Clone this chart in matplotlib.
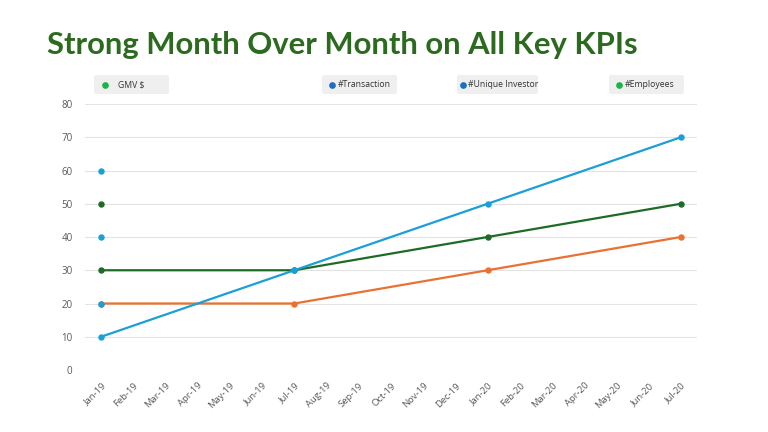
import numpy as np
import matplotlib
matplotlib.use("Agg")
import matplotlib.pyplot as plt
from matplotlib.patches import FancyBboxPatch
from matplotlib.lines import Line2D

# Chart data
months = ["Jan-19", "Feb-19", "Mar-19", "Apr-19", "May-19", "Jun-19", "Jul-19",
          "Aug-19", "Sep-19", "Oct-19", "Nov-19", "Dec-19", "Jan-20", "Feb-20",
          "Mar-20", "Apr-20", "May-20", "Jun-20", "Jul-20"]
line_months = ["Jan-19", "Jul-19", "Jan-20", "Jul-20"]
blue_values = [10, 30, 50, 70]
green_values = [30, 30, 40, 50]
orange_values = [20, 20, 30, 40]
# stray single points in Jan-19
extra_blue = [60, 40, 20]
extra_green = [50]
legend_labels = ["GMV $", "#Transaction", "#Unique Investor", "#Employees"]
y_ticks = [0, 10, 20, 30, 40, 50, 60, 70, 80]

BLUE = "#1A9FD6"
GREEN = "#1E6B26"
ORANGE = "#E97132"
GREY = "#595959"
plt.rcParams["font.family"] = ["Open Sans", "DejaVu Sans"]

fig = plt.figure(figsize=(7.68, 4.32), dpi=100)
ax = fig.add_axes([85 / 768, 62 / 432, 612 / 768, 266 / 432])

xpos = [months.index(m) for m in line_months]
ax.plot(xpos, orange_values, color=ORANGE, lw=1.6, marker="o", ms=3.6, zorder=3)
ax.plot(xpos, green_values, color=GREEN, lw=1.6, marker="o", ms=3.6, zorder=4)
ax.plot(xpos, blue_values, color=BLUE, lw=1.6, marker="o", ms=3.6, zorder=5)
ax.plot([0] * len(extra_blue), extra_blue, ls="none", marker="o", ms=3.6,
        color=BLUE, zorder=6)
ax.plot([0] * len(extra_green), extra_green, ls="none", marker="o", ms=3.6,
        color=GREEN, zorder=6)

ax.set_xlim(-0.5, len(months) - 0.5)
ax.set_ylim(0, 80)
ax.set_yticks(y_ticks)
ax.set_xticks(range(len(months)))
ax.set_xticklabels(months, rotation=45, ha="right", va="top",
                   rotation_mode="anchor", fontsize=6.8, color=GREY)
ax.tick_params(axis="y", labelsize=7, colors=GREY, length=0, pad=9)
ax.tick_params(axis="x", length=0, pad=8)
ax.grid(axis="y", color="#E3E3E3", lw=0.8)
ax.set_axisbelow(True)
for s in ax.spines.values():
    s.set_visible(False)

# Title
fig.text(47 / 768, 1 - 45 / 432, "Strong Month Over Month on All Key KPIs",
         fontsize=22.3, fontweight="bold", color="#2B6A1F", va="center",
         ha="left", family="Lato")

# Legend boxes: (box left, box right, dot x, text x) in pixels
boxes = [(94, 169, 105, 118), (322, 397, 332, 338),
         (457, 538, 463, 468), (609, 684, 619, 625)]
dot_colors = ["#1DB34A", "#1A6FC4", "#1A6FC4", "#1DB34A"]
for (x0, x1, xd, xt), lab, c in zip(boxes, legend_labels, dot_colors):
    y0, y1 = 432 - 94, 432 - 75
    fig.patches.append(FancyBboxPatch((x0 / 768, y0 / 432), (x1 - x0) / 768,
                                      (y1 - y0) / 432,
                                      boxstyle="round,pad=0,rounding_size=0.004",
                                      transform=fig.transFigure,
                                      fc="#EFEFEF", ec="none"))
    ym = (y0 + y1) / 2 / 432
    fig.add_artist(Line2D([xd / 768], [ym], marker="o", ms=3.8, color=c,
                          ls="none", transform=fig.transFigure))
    fig.text(xt / 768, ym, lab, fontsize=6.2, color="#333333",
             va="center", ha="left")

fig.savefig("out.png", dpi=100)
